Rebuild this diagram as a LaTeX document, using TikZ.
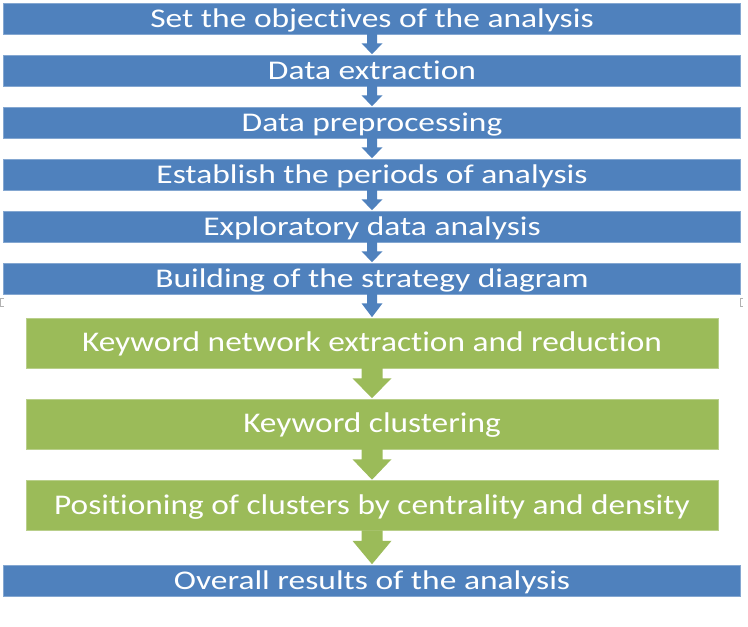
\documentclass[tikz,border=0pt]{standalone}
\usepackage{fontspec}
\setmainfont{Carlito}[Ligatures=NoCommon]
\newfontfamily\bluefont{Carlito}[FakeStretch=1.24, Ligatures=NoCommon]
\newfontfamily\greenfont{Carlito}[FakeStretch=1.17, Ligatures=NoCommon]
\usetikzlibrary{calc}

\definecolor{stepblue}{HTML}{4F81BD}
\definecolor{stepgreen}{HTML}{9BBB59}

% block arrow from the bottom of one box to the top of the next
% #1 from, #2 to, #3 half shaft width, #4 half head width, #5 shaft length, #6 colour
\newcommand{\blockarrow}[6]{%
  \fill[#6] let \p1=(#1.south), \p2=(#2.north) in
    (\x1-#3,\y1+0.5pt) -- (\x1+#3,\y1+0.5pt) -- (\x1+#3,\y1-#5) -- (\x1+#4,\y1-#5)
    -- (\x1,\y2+0.5pt) -- (\x1-#4,\y1-#5) -- (\x1-#3,\y1-#5) -- cycle;}

\tikzset{
  bluebox/.style={rectangle, fill=stepblue, draw=stepblue!70!white, line width=0.6pt,
    minimum width=737pt, minimum height=31pt, inner sep=0pt,
    text=white, font=\bluefont\fontsize{27}{30}\selectfont, text height=20pt, text depth=3pt},
  greenbox/.style={rectangle, fill=stepgreen, draw=stepgreen!70!white, line width=0.6pt,
    minimum width=692pt, minimum height=50pt, inner sep=0pt,
    text=white, font=\greenfont\fontsize{28.5}{31}\selectfont, text height=20pt, text depth=3pt},
  handle/.style={draw=gray!60, line width=0.8pt}
}

\begin{document}
\begin{tikzpicture}[x=1pt, y=-1pt]
  \useasboundingbox (0,0) rectangle (748,627);

  \node[bluebox] (b1) at (372,18.5)  {Set the objectives of the analysis};
  \node[bluebox] (b2) at (372,70.5)  {Data extraction};
  \node[bluebox] (b3) at (372,122.5) {Data preprocessing};
  \node[bluebox] (b4) at (372,174.5) {Establish the periods of analysis};
  \node[bluebox] (b5) at (372,226.5) {Exploratory data analysis};
  \node[bluebox] (b6) at (372,278.5) {Building of the strategy diagram};

  \node[greenbox] (g1) at (372,343)   {Keyword network extraction and reduction};
  \node[greenbox] (g2) at (372,424)   {Keyword clustering};
  \node[greenbox] (g3) at (372,505.5) {Positioning of clusters by centrality and density};

  \node[bluebox] (b7) at (372,580.5) {Overall results of the analysis};

  \blockarrow{b1}{b2}{5pt}{10.5pt}{9pt}{stepblue}
  \blockarrow{b2}{b3}{5pt}{10.5pt}{9pt}{stepblue}
  \blockarrow{b3}{b4}{5pt}{10.5pt}{9pt}{stepblue}
  \blockarrow{b4}{b5}{5pt}{10.5pt}{9pt}{stepblue}
  \blockarrow{b5}{b6}{5pt}{10.5pt}{9pt}{stepblue}
  \blockarrow{b6}{g1}{5pt}{10.5pt}{9pt}{stepblue}

  \blockarrow{g1}{g2}{10.5pt}{19.5pt}{10pt}{stepgreen}
  \blockarrow{g2}{g3}{10.5pt}{19.5pt}{10pt}{stepgreen}
  \blockarrow{g3}{b7}{10.5pt}{19.5pt}{10pt}{stepgreen}

  % small selection handles beside the diagram
  \draw[handle] (4,298) -- (0.5,298) -- (0.5,306) -- (4,306);
  \draw[handle] (743,298) -- (740.5,298) -- (740.5,306) -- (743,306);
\end{tikzpicture}
\end{document}
